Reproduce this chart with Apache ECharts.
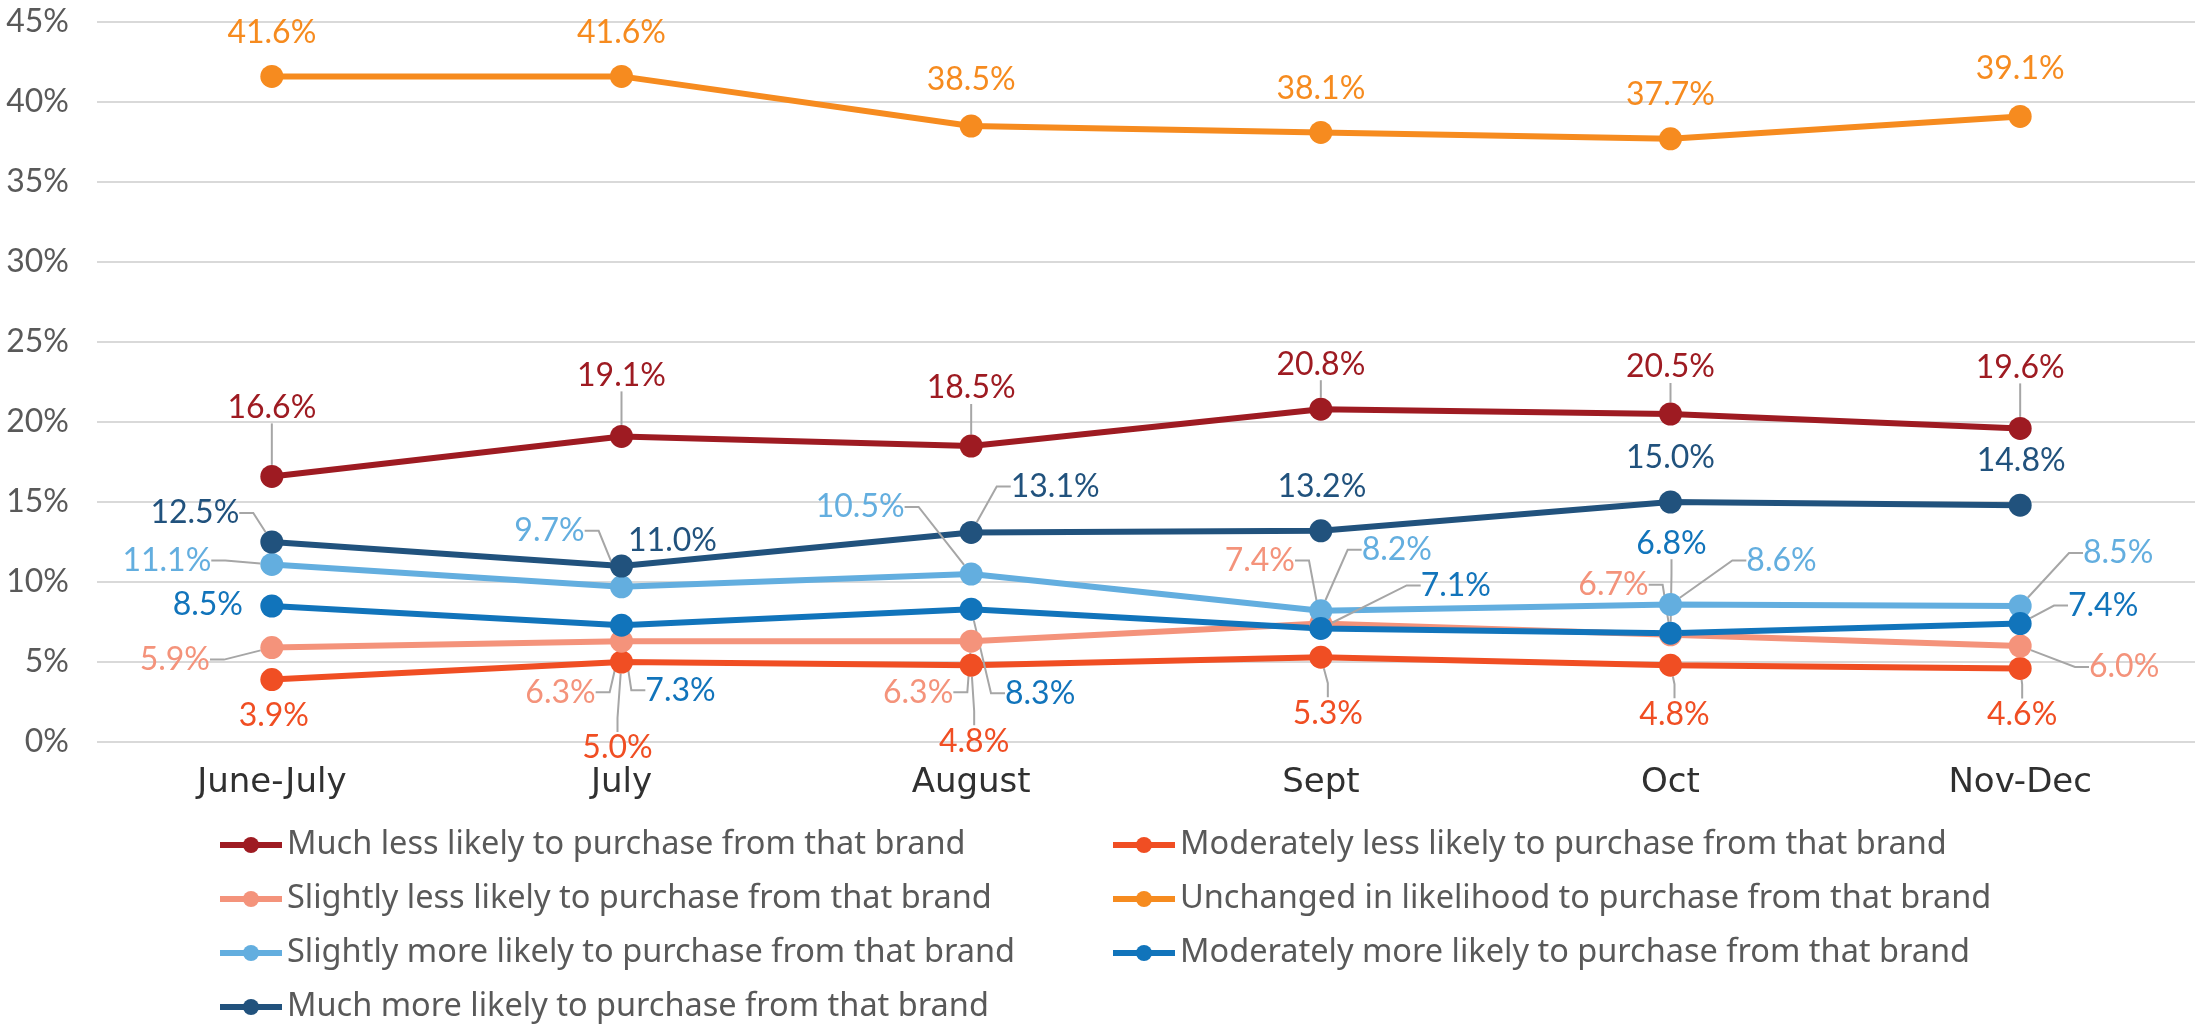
<!DOCTYPE html>
<html>
<head>
<meta charset="utf-8">
<script src="https://cdn.jsdelivr.net/npm/echarts@6/dist/echarts.min.js"></script>
<style>
  html, body { margin: 0; padding: 0; background: #ffffff; }
  #chart { width: 2196px; height: 1028px; }
</style>
</head>
<body>
<div id="chart"></div>
<script>
// Survey periods on the category axis
const periods = ['June-July', 'July', 'August', 'Sept', 'Oct', 'Nov-Dec'];

// Share of respondents (%) per answer, one array per answer
const muchLess       = [16.6, 19.1, 18.5, 20.8, 20.5, 19.6];
const moderatelyLess = [3.9, 5.0, 4.8, 5.3, 4.8, 4.6];
const slightlyLess   = [5.9, 6.3, 6.3, 7.4, 6.7, 6.0];
const unchanged      = [41.6, 41.6, 38.5, 38.1, 37.7, 39.1];
const slightlyMore   = [11.1, 9.7, 10.5, 8.2, 8.6, 8.5];
const moderatelyMore = [8.5, 7.3, 8.3, 7.1, 6.8, 7.4];
const muchMore       = [12.5, 11.0, 13.1, 13.2, 15.0, 14.8];

const seriesNames = [
  'Much less likely to purchase from that brand',
  'Moderately less likely to purchase from that brand',
  'Slightly less likely to purchase from that brand',
  'Unchanged in likelihood to purchase from that brand',
  'Slightly more likely to purchase from that brand',
  'Moderately more likely to purchase from that brand',
  'Much more likely to purchase from that brand'
];
const seriesValues = [muchLess, moderatelyLess, slightlyLess, unchanged, slightlyMore, moderatelyMore, muchMore];

// Y axis ticks
const yMin = 0, yMax = 45, yStep = 5;

// Styling
const colors = ['#9E1B22', '#F04E23', '#F4937B', '#F68B1F', '#63AEDF', '#1174BB', '#21527D'];
const FONT = 'Lato, "Noto Sans", sans-serif';
const LEGEND_FONT = '"Noto Sans", Lato, sans-serif';
const WIDE_FONT = '"DejaVu Sans", "Open Sans", sans-serif';
const TEXT = '#595959';

// Label placement: pixel offset of each value label from its point, per series
const labelOffsets = [
  [[0, -69], [0, -61], [0, -58], [0, -45], [0, -47], [0, -61]],
  [[2, 36], [-4, 86], [3, 76], [7, 56], [4, 49], [2, 46]],
  [[-97, 12], [-61, 51], [-53, 51], [-61, -63], [-57, -50], [104, 21]],
  [[0, -44], [0, -44], [0, -46], [0, -44], [0, -44], [0, -48]],
  [[-105, -4], [-72, -56], [-111, -67], [76, -61], [111, -44], [98, -53]],
  [[-64, -1], [59, 65], [69, 84], [135, -43], [1, -90], [83, -18]],
  [[-77, -29], [51, -25], [84, -46], [1, -44], [0, -44], [1, -45]]
];
// Which labels get a grey leader line back to their point
const leaderLines = [
  [1, 1, 1, 1, 1, 1],
  [0, 1, 1, 1, 1, 1],
  [1, 1, 1, 1, 1, 1],
  [0, 0, 0, 0, 0, 0],
  [1, 1, 1, 1, 1, 1],
  [0, 1, 1, 1, 1, 1],
  [1, 0, 1, 0, 0, 0]
];

const chart = echarts.init(document.getElementById('chart'), null, { renderer: 'canvas' });

const series = seriesNames.map((name, s) => ({
  name: name,
  type: 'line',
  data: seriesValues[s].map((v, i) => ({
    value: v,
    labelLine: { show: !!leaderLines[s][i] }
  })),
  color: colors[s],
  symbol: 'circle',
  symbolSize: 23,
  showAllSymbol: true,
  lineStyle: { width: 6, color: colors[s] },
  itemStyle: { color: colors[s] },
  emphasis: { disabled: true },
  label: {
    show: true,
    position: 'inside',
    color: colors[s],
    fontFamily: FONT,
    fontSize: 32,
    formatter: p => p.value.toFixed(1) + '%'
  },
  labelLine: {
    length2: 14,
    smooth: false,
    lineStyle: { color: '#A6A6A6', width: 2 }
  },
  labelLayout: function (params) {
    const off = labelOffsets[s][params.dataIndex];
    return { dx: off[0], dy: off[1] };
  }
}));

const legendCommon = {
  orient: 'vertical',
  itemWidth: 62,
  itemHeight: 20,
  itemGap: 20,
  padding: 0,
  selectedMode: false,
  lineStyle: { width: 6 },
  textStyle: { fontFamily: LEGEND_FONT, fontSize: 32.5, color: TEXT, lineHeight: 34 }
};

chart.setOption({
  animation: false,
  backgroundColor: '#ffffff',
  grid: { left: 97, right: 1, top: 22, bottom: 286, containLabel: false },
  legend: [
    Object.assign({}, legendCommon, {
      left: 217, top: 828,
      data: [seriesNames[0], seriesNames[2], seriesNames[4], seriesNames[6]]
    }),
    Object.assign({}, legendCommon, {
      left: 1110, top: 828,
      data: [seriesNames[1], seriesNames[3], seriesNames[5]]
    })
  ],
  xAxis: {
    type: 'category',
    data: periods,
    boundaryGap: true,
    axisLine: { show: false },
    axisTick: { show: false },
    axisLabel: { color: '#303030', fontFamily: WIDE_FONT, fontSize: 34, margin: 24 }
  },
  yAxis: {
    type: 'value',
    min: yMin,
    max: yMax,
    interval: yStep,
    axisLine: { show: false },
    axisTick: { show: false },
    axisLabel: { color: TEXT, fontFamily: FONT, fontSize: 32, margin: 28, formatter: '{value}%' },
    splitLine: { lineStyle: { color: '#D9D9D9', width: 2 } }
  },
  series: series
});
</script>
</body>
</html>
